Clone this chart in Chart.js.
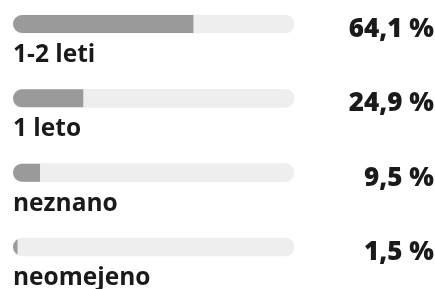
<!DOCTYPE html>
<html>
<head>
<meta charset="utf-8">
<script src="https://cdn.jsdelivr.net/npm/chart.js@4"></script>
<style>
html,body{margin:0;padding:0;background:#fff;}
#wrap{width:435px;height:289px;position:relative;}
</style>
</head>
<body>
<div id="wrap"><canvas id="c"></canvas></div>
<script>
const categories = ["1-2 leti", "1 leto", "neznano", "neomejeno"];
const values = [64.1, 24.9, 9.5, 1.5];
const valueLabels = ["64,1 %", "24,9 %", "9,5 %", "1,5 %"];
const trackValues = [100, 100, 100, 100];

const clipPlugin = {
  id: 'clipPlugin',
  beforeDatasetDraw(chart, args) {
    if (args.index !== 0) return;
    const trackMeta = chart.getDatasetMeta(1);
    const ctx = chart.ctx;
    ctx.save();
    ctx.beginPath();
    trackMeta.data.forEach(el => {
      const h = el.height;
      const left = Math.min(el.x, el.base);
      const w = Math.abs(el.x - el.base);
      ctx.roundRect(left, el.y - h / 2, w, h, h / 2);
    });
    ctx.clip();
  },
  afterDatasetDraw(chart, args) {
    if (args.index !== 0) return;
    chart.ctx.restore();
  }
};

const labelPlugin = {
  id: 'labelPlugin',
  afterDatasetsDraw(chart) {
    const ctx = chart.ctx;
    const meta = chart.getDatasetMeta(0);
    const area = chart.chartArea;
    ctx.save();
    meta.data.forEach((bar, i) => {
      ctx.fillStyle = '#1a1a1a';
      ctx.font = 'bold 24.5px "Open Sans"';
      ctx.textAlign = 'left';
      ctx.textBaseline = 'alphabetic';
      ctx.fillText(categories[i], area.left, bar.y + 38);
      ctx.font = '800 26px "Open Sans"';
      ctx.textAlign = 'right';
      ctx.fillText(valueLabels[i], chart.width - 1, bar.y + 13);
    });
    ctx.restore();
  }
};

new Chart(document.getElementById('c'), {
  type: 'bar',
  data: {
    labels: categories,
    datasets: [
      {
        data: values,
        backgroundColor: '#9a9a9a',
        borderRadius: 0,
        borderSkipped: false,
        barThickness: 18,
        grouped: false,
        clip: false
      },
      {
        data: trackValues,
        backgroundColor: '#eeeeee',
        borderRadius: 9,
        borderSkipped: false,
        barThickness: 18,
        grouped: false,
        clip: false
      }
    ]
  },
  options: {
    indexAxis: 'y',
    responsive: true,
    maintainAspectRatio: false,
    animation: false,
    layout: {padding: {left: 13, right: 141, top: 24, bottom: 42}},
    scales: {
      x: {display: false, min: 0, max: 100},
      y: {display: false, offset: false}
    },
    plugins: {legend: {display: false}, tooltip: {enabled: false}}
  },
  plugins: [clipPlugin, labelPlugin]
});
</script>
</body>
</html>
